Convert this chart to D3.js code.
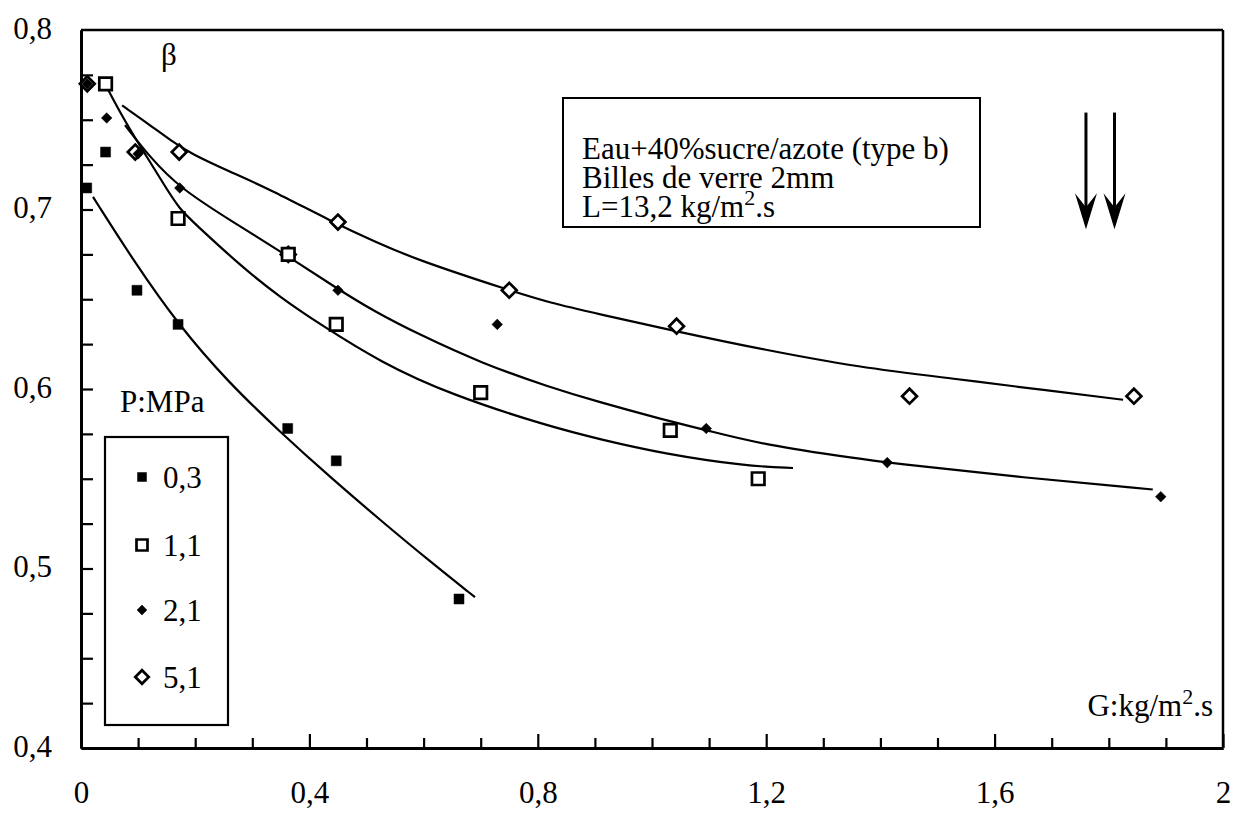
<!DOCTYPE html>
<html><head><meta charset="utf-8">
<script src="https://cdn.jsdelivr.net/npm/d3@7"></script>
<style>
body{margin:0;background:#fff}
svg text{font-family:"Liberation Serif","Times New Roman",serif;fill:#000}
</style>
</head><body>
<svg id="c" width="1238" height="814"></svg>
<script>
// ---------- data ----------
const pressureLabels = ["0,3","1,1","2,1","5,1"];
const xTickValues = [0,0.4,0.8,1.2,1.6,2];
const xTickLabels = ["0","0,4","0,8","1,2","1,6","2"];
const xMinorTicks = [0.1,0.2,0.3,0.5,0.6,0.7,0.9,1.0,1.1,1.3,1.4,1.5,1.7,1.8,1.9];
const yTickValues = [0.4,0.5,0.6,0.7,0.8];
const yTickLabels = ["0,4","0,5","0,6","0,7","0,8"];
const yMinorTicks = [0.425,0.45,0.475,0.5,0.525,0.55,0.575,0.6,0.625,0.65,0.675,0.7,0.725,0.75,0.775];

// measured points [G, beta]
const pts03 = [[0.010,0.712],[0.043,0.732],[0.098,0.655],[0.170,0.636],[0.362,0.578],[0.447,0.560],[0.662,0.483]];
const pts11 = [[0.043,0.770],[0.170,0.695],[0.363,0.675],[0.447,0.636],[0.700,0.598],[1.032,0.577],[1.186,0.550]];
const pts21 = [[0.011,0.770],[0.045,0.751],[0.100,0.731],[0.173,0.712],[0.450,0.655],[0.729,0.636],[1.095,0.578],[1.412,0.559],[1.891,0.540]];
const pts51 = [[0.011,0.770],[0.095,0.732],[0.172,0.732],[0.363,0.675],[0.450,0.693],[0.750,0.655],[1.043,0.635],[1.451,0.596],[1.844,0.596]];

// fitted curves [G, beta]
const fit03 = [[0.021,0.707],[0.095,0.670],[0.170,0.636],[0.257,0.604],[0.349,0.576],[0.436,0.551],[0.524,0.527],[0.611,0.504],[0.690,0.484]];
const fit11 = [[0.042,0.770],[0.077,0.749],[0.116,0.729],[0.147,0.713],[0.173,0.700],[0.200,0.692],[0.278,0.669],[0.349,0.651],[0.419,0.636],[0.524,0.615],[0.646,0.597],[0.821,0.579],[0.909,0.572],[1.019,0.564],[1.166,0.557],[1.247,0.556]];
const fit21 = [[0.077,0.747],[0.121,0.729],[0.173,0.712],[0.261,0.694],[0.363,0.674],[0.448,0.656],[0.515,0.643],[0.588,0.631],[0.704,0.614],[0.821,0.601],[0.904,0.593],[1.019,0.583],[1.096,0.577],[1.194,0.569],[1.364,0.561],[1.412,0.559],[1.639,0.551],[1.877,0.544]];
const fit51 = [[0.072,0.758],[0.121,0.747],[0.159,0.738],[0.193,0.731],[0.261,0.721],[0.326,0.712],[0.441,0.693],[0.515,0.682],[0.588,0.672],[0.750,0.655],[0.821,0.648],[0.904,0.642],[1.044,0.632],[1.194,0.622],[1.364,0.612],[1.522,0.606],[1.697,0.599],[1.825,0.594]];

const arrowsG = [1.76, 1.81];
const arrowTopBeta = 0.754, arrowBottomBeta = 0.689;

const infoLines = ["Eau+40%sucre/azote (type b)", "Billes de verre 2mm"];

// ---------- drawing ----------
const L = 81, R = 1223, T = 30, B = 748;
const FS = 31;
const svg = d3.select("#c");
const x = d3.scaleLinear().domain([0,2]).range([L,R]);
const y = d3.scaleLinear().domain([0.4,0.8]).range([B,T]);

// frame
svg.append("line").attr("x1",L).attr("x2",R).attr("y1",T).attr("y2",T).attr("stroke","#000").attr("stroke-width",2.5);
svg.append("line").attr("x1",R).attr("x2",R).attr("y1",T).attr("y2",B).attr("stroke","#000").attr("stroke-width",2.5);

// ticks and axes
const gxMinor = svg.append("g").attr("transform",`translate(0,${B})`)
  .call(d3.axisBottom(x).tickValues(xMinorTicks).tickSizeInner(-10).tickSizeOuter(0).tickFormat(""));
const gxMajor = svg.append("g").attr("transform",`translate(0,${B})`)
  .call(d3.axisBottom(x).tickValues(xTickValues).tickSizeInner(-14).tickSizeOuter(0).tickPadding(33)
    .tickFormat((d,i)=>xTickLabels[i]));
const gy = svg.append("g").attr("transform",`translate(${L},0)`)
  .call(d3.axisLeft(y).tickValues(yMinorTicks).tickSizeInner(-12).tickSizeOuter(0).tickFormat(""));
const gyLab = svg.append("g").attr("transform",`translate(${L},0)`)
  .call(d3.axisLeft(y).tickValues(yTickValues).tickSizeInner(0).tickSizeOuter(0).tickPadding(29)
    .tickFormat((d,i)=>yTickLabels[i]));
[gxMinor,gxMajor,gy,gyLab].forEach(g=>{
  g.selectAll(".tick line").attr("stroke","#000").attr("stroke-width",2.2);
  g.select(".domain").attr("stroke","#000").attr("stroke-width",3);
  g.selectAll("text").attr("font-size",FS).attr("font-family","Liberation Serif").attr("fill","#000");
});
gxMajor.selectAll(".tick text").attr("dy","0.71em");
gyLab.selectAll(".tick text").attr("dy","0.26em");
gyLab.selectAll(".tick line").remove();

// curves
const line = d3.line().x(d=>x(d[0])).y(d=>y(d[1])).curve(d3.curveBasis);
[fit03,fit11,fit21,fit51].forEach(c=>{
  svg.append("path").attr("d",line(c)).attr("fill","none").attr("stroke","#000").attr("stroke-width",2.2);
});

// markers
const sqOpen = d3.symbol(d3.symbolSquare, 12.5*12.5);
const sqFill = d3.symbol(d3.symbolSquare, 10*10);
const diaOpen = d3.symbol(d3.symbolSquare, 10.5*10.5);
const diaFill = d3.symbol(d3.symbolSquare, 7.5*7.5);
function drawMarks(data, gen, rot, filled){
  svg.append("g").selectAll("path").data(data).join("path")
    .attr("d",gen())
    .attr("transform",d=>`translate(${x(d[0])},${y(d[1])}) rotate(${rot})`)
    .attr("fill",filled?"#000":"#fff")
    .attr("stroke","#000").attr("stroke-width",filled?0.5:2.7);
}
drawMarks(pts51, diaOpen, 45, false);
drawMarks(pts11, sqOpen, 0, false);
drawMarks(pts21, diaFill, 45, true);
drawMarks(pts03, sqFill, 0, true);

// beta label
svg.append("text").attr("x",161).attr("y",65).attr("font-size",FS).text("β");

// info box
svg.append("rect").attr("x",563).attr("y",98).attr("width",417).attr("height",129)
  .attr("fill","none").attr("stroke","#000").attr("stroke-width",2);
svg.append("text").attr("x",582).attr("y",159).attr("font-size",FS).text(infoLines[0]);
svg.append("text").attr("x",582).attr("y",188).attr("font-size",FS).text(infoLines[1]);
const info3 = svg.append("text").attr("x",582).attr("y",217).attr("font-size",FS);
info3.append("tspan").text("L=13,2 kg/m");
info3.append("tspan").attr("dy",-12).attr("font-size",22).text("2");
info3.append("tspan").attr("dy",12).text(".s");

// arrows
arrowsG.forEach(g=>{
  const ax = x(g), y1 = y(arrowTopBeta), y2 = y(arrowBottomBeta);
  svg.append("line").attr("x1",ax).attr("x2",ax).attr("y1",y1).attr("y2",y2-20).attr("stroke","#000").attr("stroke-width",3);
  svg.append("path").attr("d",`M${ax-11},${y2-36} L${ax},${y2-22} L${ax+11},${y2-36} L${ax},${y2} Z`).attr("fill","#000");
});

// legend
svg.append("text").attr("x",120).attr("y",412).attr("font-size",FS).text("P:MPa");
svg.append("rect").attr("x",105).attr("y",437).attr("width",123).attr("height",288)
  .attr("fill","none").attr("stroke","#000").attr("stroke-width",2.2);
const legY = [477,545,610,677];
const legGens = [
  [d3.symbol(d3.symbolSquare,9*9),0,true],
  [d3.symbol(d3.symbolSquare,11*11),0,false],
  [d3.symbol(d3.symbolSquare,7*7),45,true],
  [d3.symbol(d3.symbolSquare,9.5*9.5),45,false]
];
pressureLabels.forEach((p,i)=>{
  const [gen,rot,filled] = legGens[i];
  svg.append("path").attr("d", gen())
    .attr("transform",`translate(142,${legY[i]}) rotate(${rot})`)
    .attr("fill",filled?"#000":"#fff").attr("stroke","#000").attr("stroke-width",filled?0.5:2.7);
  svg.append("text").attr("x",163).attr("y",legY[i]+11).attr("font-size",FS).text(p);
});

// x axis title
const gt = svg.append("text").attr("x",1213).attr("y",716).attr("font-size",FS).attr("text-anchor","end");
gt.append("tspan").text("G:kg/m");
gt.append("tspan").attr("dy",-12).attr("font-size",22).text("2");
gt.append("tspan").attr("dy",12).text(".s");
</script>
</body></html>
